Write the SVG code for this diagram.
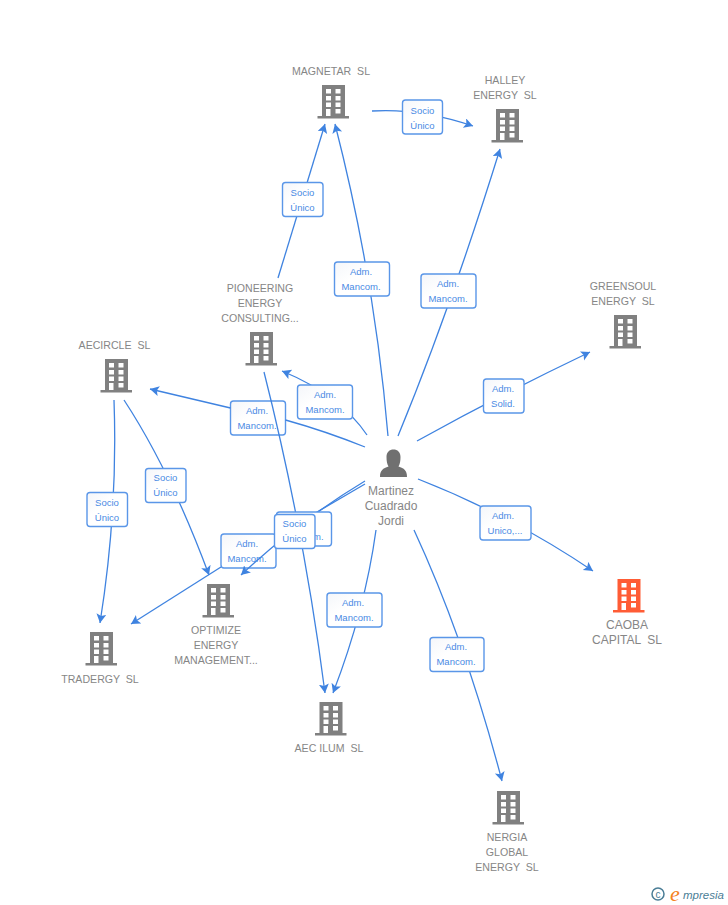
<svg xmlns="http://www.w3.org/2000/svg" width="728" height="905" viewBox="0 0 728 905">
<style>
text{font-family:"Liberation Sans",Arial,sans-serif}
.n{font-size:10.6px;fill:#868686;text-anchor:middle;white-space:pre}
.m{font-size:12px}
.l{font-size:9.5px;fill:#4a8ae4;text-anchor:middle}
.c{fill:none;stroke:#3f83e0;stroke-width:1.3}
.b{fill:url(#g);stroke:#5a96e8;stroke-width:1.4}
</style>
<defs>
<linearGradient id="g" x1="0" y1="0" x2="1" y2="1"><stop offset="0" stop-color="#f4f6fa"/><stop offset="0.4" stop-color="#fff"/><stop offset="1" stop-color="#fff"/></linearGradient>
<marker id="a" markerUnits="userSpaceOnUse" markerWidth="12" markerHeight="12" refX="9" refY="5" orient="auto"><path d="M0 0L9 5L0 10L2 5Z" fill="#3f83e0"/></marker>
<g id="bd">
<path fill-rule="evenodd" d="M-11.500 0H11.500V31H15.500V33.500H-16V31H-11.500ZM-7.500 4V8.500H-2.500V4ZM2 4V8.500H7V4ZM-7.500 11V15.500H-2.500V11ZM2 11V15.500H7V11ZM-7.500 17.500V22H-2.500V17.500ZM2 17.500V22H7V17.500ZM-7.500 24V31H-3V24ZM2 24V28.500H7V24Z"/>
</g>
</defs>
<g id="labels-back">
<rect class="b" x="230.500" y="401" width="55" height="34" rx="3"/><text class="l" x="257" y="414">Adm.</text><text class="l" x="257" y="429">Mancom.</text>
<rect class="b" x="221" y="534" width="55" height="34" rx="3"/><text class="l" x="247" y="547">Adm.</text><text class="l" x="247" y="562">Mancom.</text>
</g>
<g id="connectors">
<path class="c" marker-end="url(#a)" d="M278 278Q300 205 325 124"/>
<path class="c" marker-end="url(#a)" d="M388 436Q375 280 335 124"/>
<path class="c" marker-end="url(#a)" d="M372 111Q420 108 473 126"/>
<path class="c" marker-end="url(#a)" d="M398 436Q450 310 500 149"/>
<path class="c" marker-end="url(#a)" d="M417 441Q500 395 590 352"/>
<path class="c" marker-end="url(#a)" d="M418 479Q510 515 593 571"/>
<path class="c" marker-end="url(#a)" d="M414 530Q465 640 502 781"/>
<path class="c" marker-end="url(#a)" d="M376 530Q365 610 333 693"/>
<path class="c" marker-end="url(#a)" d="M264 372Q304 530 325 693"/>
<path class="c" marker-end="url(#a)" d="M367 435Q340 395 282 371"/>
<path class="c" d="M365 447Q325 431 285.500 420"/>
<path class="c" marker-end="url(#a)" d="M230.500 408L150 389"/>
<path class="c" marker-end="url(#a)" d="M365 481Q300 520 241 575"/>
<path class="c" d="M365 484L300 522"/>
<path class="c" marker-end="url(#a)" d="M221 567L131 624"/>
<path class="c" marker-end="url(#a)" d="M124 400Q170 470 209 575"/>
<path class="c" marker-end="url(#a)" d="M114 400Q118 510 100 623"/>
</g>
<g id="labels">
<rect class="b" x="282.500" y="182.500" width="40.500" height="34" rx="3"/><text class="l" x="302.500" y="196">Socio</text><text class="l" x="302.500" y="211">Único</text>
<rect class="b" x="402.500" y="100" width="40" height="34" rx="3"/><text class="l" x="422.500" y="113.500">Socio</text><text class="l" x="422.500" y="128.500">Único</text>
<rect class="b" x="334.500" y="262" width="55" height="34" rx="3"/><text class="l" x="361" y="275">Adm.</text><text class="l" x="361" y="290">Mancom.</text>
<rect class="b" x="421" y="274" width="55" height="34" rx="3"/><text class="l" x="448" y="287">Adm.</text><text class="l" x="448" y="302">Mancom.</text>
<rect class="b" x="297.500" y="385" width="55" height="34" rx="3"/><text class="l" x="325" y="398">Adm.</text><text class="l" x="325" y="413">Mancom.</text>
<rect class="b" x="483.500" y="379" width="40.500" height="34" rx="3"/><text class="l" x="503" y="392">Adm.</text><text class="l" x="503" y="407">Solid.</text>
<rect class="b" x="480" y="506" width="51" height="34" rx="3"/><text class="l" x="503" y="519">Adm.</text><text class="l" x="505" y="534">Unico,...</text>
<rect class="b" x="145.500" y="468.500" width="40.500" height="34" rx="3"/><text class="l" x="165.500" y="481">Socio</text><text class="l" x="165.500" y="496">Único</text>
<rect class="b" x="87" y="492.500" width="40.500" height="34" rx="3"/><text class="l" x="107" y="506">Socio</text><text class="l" x="107" y="521">Único</text>
<rect class="b" x="276.500" y="512" width="55" height="34" rx="3"/><text class="l" x="304" y="525">Adm.</text><text class="l" x="304" y="540">Mancom.</text>
<rect class="b" x="274.500" y="514.500" width="40.500" height="34" rx="3" style="fill:#fff"/><text class="l" x="294.500" y="527">Socio</text><text class="l" x="294.500" y="542">Único</text>
<rect class="b" x="327" y="593" width="55" height="34" rx="3"/><text class="l" x="353" y="606">Adm.</text><text class="l" x="354" y="621">Mancom.</text>
<rect class="b" x="430" y="637.500" width="54" height="34" rx="3"/><text class="l" x="456" y="650">Adm.</text><text class="l" x="456" y="665">Mancom.</text>
</g>
<g id="magnetar"><use href="#bd" x="333.500" y="85" fill="#808080"/><text class="n" x="331" y="75">MAGNETAR  SL</text></g>
<g id="halley"><use href="#bd" x="507.500" y="109" fill="#808080"/><text class="n" x="505" y="84">HALLEY</text><text class="n" x="505" y="99">ENERGY  SL</text></g>
<g id="greensoul"><use href="#bd" x="625.500" y="315" fill="#808080"/><text class="n" x="623" y="290">GREENSOUL</text><text class="n" x="623" y="305">ENERGY  SL</text></g>
<g id="pioneering"><use href="#bd" x="261.500" y="332" fill="#808080"/><text class="n" x="260" y="292">PIONEERING</text><text class="n" x="260" y="307">ENERGY</text><text class="n" x="260" y="322">CONSULTING...</text></g>
<g id="aecircle"><use href="#bd" x="116.500" y="359" fill="#808080"/><text class="n" x="114.500" y="349">AECIRCLE  SL</text></g>
<g id="optimize"><use href="#bd" x="218.500" y="584" fill="#808080"/><text class="n" x="216" y="634">OPTIMIZE</text><text class="n" x="216" y="649">ENERGY</text><text class="n" x="216" y="664">MANAGEMENT...</text></g>
<g id="tradergy"><use href="#bd" x="101.500" y="632" fill="#808080"/><text class="n" x="100" y="683">TRADERGY  SL</text></g>
<g id="aecilum"><use href="#bd" x="331" y="702" fill="#808080"/><text class="n" x="329" y="752">AEC ILUM  SL</text></g>
<g id="nergia"><use href="#bd" x="508.500" y="791" fill="#808080"/><text class="n" x="507" y="841">NERGIA</text><text class="n" x="507" y="856">GLOBAL</text><text class="n" x="507" y="871">ENERGY  SL</text></g>
<g id="caoba"><use href="#bd" x="629" y="579" fill="#ff5c35"/><text class="n m" x="627" y="629">CAOBA</text><text class="n m" x="627" y="644">CAPITAL  SL</text></g>
<g id="person"><path fill="#707070" d="M380 477C380 470 383 468.500 388.500 466.500C387 464 386.500 461 386.500 457C386.500 452 389.500 449.500 393.500 449.500C397.500 449.500 400.500 452 400.500 457C400.500 461 400 464 398.500 466.500C404 468.500 407 470 407 477Z"/><text class="n m" x="391" y="495">Martinez</text><text class="n m" x="391" y="510">Cuadrado</text><text class="n m" x="391" y="525">Jordi</text></g>
<g id="logo"><circle cx="658" cy="894" r="6" fill="none" stroke="#4a7d96" stroke-width="1.500"/><text x="658" y="897.500" font-size="10" fill="#4a7d96" text-anchor="middle">c</text><text x="670" y="901" font-size="22" font-style="italic" fill="#f58220" style="font-family:'Liberation Serif',serif">e</text><text x="683" y="899" font-size="11.500" font-style="italic" fill="#4a7d96">mpresia</text></g>
</svg>
